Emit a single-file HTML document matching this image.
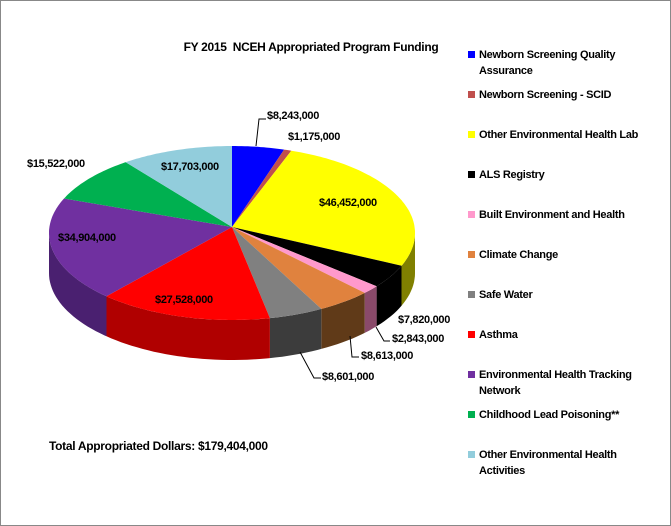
<!DOCTYPE html>
<html><head><meta charset="utf-8"><style>
body{margin:0;background:#fff}
#c{position:relative;width:669px;height:524px;border:1px solid #888;background:#fff;font-family:"Liberation Sans",sans-serif;font-weight:bold;color:#000;overflow:hidden}
.t{position:absolute;font-size:11px;white-space:nowrap;letter-spacing:-0.3px}
.lg{position:absolute;left:478px;font-size:11px;line-height:16px;letter-spacing:-0.3px}
.sq{position:absolute;left:-11px;top:4px;width:7px;height:7px}
</style></head><body><div id="c">
<div class="t" style="left:0;width:620px;text-align:center;top:39px;font-size:12px">FY 2015&nbsp; NCEH Appropriated Program Funding</div>
<svg id="s" width="671" height="526" style="position:absolute;left:0;top:0"></svg>
<div class="t" style="left:266px;top:109px">$8,243,000</div>
<div class="t" style="left:287px;top:130px">$1,175,000</div>
<div class="t" style="left:318px;top:196px">$46,452,000</div>
<div class="t" style="left:26px;top:157px">$15,522,000</div>
<div class="t" style="left:160px;top:160px">$17,703,000</div>
<div class="t" style="left:57px;top:231px">$34,904,000</div>
<div class="t" style="left:154px;top:293px">$27,528,000</div>
<div class="t" style="left:397px;top:313px">$7,820,000</div>
<div class="t" style="left:391px;top:332px">$2,843,000</div>
<div class="t" style="left:360px;top:349px">$8,613,000</div>
<div class="t" style="left:321px;top:370px">$8,601,000</div>
<div class="t" style="left:48px;top:438px;font-size:12px">Total Appropriated Dollars: $179,404,000</div>
<div class="lg" style="top:46px"><span class="sq" style="background:#0000ff"></span>Newborn Screening Quality<br>Assurance</div>
<div class="lg" style="top:86px"><span class="sq" style="background:#c0504d"></span>Newborn Screening - SCID</div>
<div class="lg" style="top:126px"><span class="sq" style="background:#ffff00"></span>Other Environmental Health Lab</div>
<div class="lg" style="top:166px"><span class="sq" style="background:#000"></span>ALS Registry</div>
<div class="lg" style="top:206px"><span class="sq" style="background:#ff99cc"></span>Built Environment and Health</div>
<div class="lg" style="top:246px"><span class="sq" style="background:#e0823e"></span>Climate Change</div>
<div class="lg" style="top:286px"><span class="sq" style="background:#808080"></span>Safe Water</div>
<div class="lg" style="top:326px"><span class="sq" style="background:#ff0000"></span>Asthma</div>
<div class="lg" style="top:366px"><span class="sq" style="background:#7030a0"></span>Environmental Health Tracking<br>Network</div>
<div class="lg" style="top:406px"><span class="sq" style="background:#00b050"></span>Childhood Lead Poisoning**</div>
<div class="lg" style="top:446px"><span class="sq" style="background:#92cddc"></span>Other Environmental Health<br>Activities</div>
</div>
<script>
(function(){
var d=[[8243,'#0000ff','#00008a'],[1175,'#c0504d','#7a2a28'],[46452,'#ffff00','#808000'],[7820,'#000000','#000000'],[2843,'#ff99cc','#8a4a6a'],[8613,'#e0823e','#603a18'],[8601,'#808080','#3c3c3c'],[27528,'#ff0000','#b00000'],[34904,'#7030a0','#4a2070'],[15522,'#00b050','#006030'],[17703,'#92cddc','#5a8a98']];
var cx=231,cy=232,rx=183,ry=87,h=40,T=0;d.forEach(function(a){T+=a[0]});
function P(t,dy){t=t*Math.PI/180;return (cx+rx*Math.sin(t)).toFixed(1)+','+(cy-ry*Math.cos(t)+(dy||0)).toFixed(1)}
var sd='',tp='',c=0;
d.forEach(function(a){var a1=c,a2=c+a[0]/T*360;c=a2;
 var s=Math.max(a1,90),e=Math.min(a2,270);
 if(e>s){var p='M'+P(s)+' ';for(var t=s;t<=e;t+=2)p+='L'+P(t)+' ';p+='L'+P(e)+' L'+P(e,h)+' ';for(var t=e;t>=s;t-=2)p+='L'+P(t,h)+' ';p+='L'+P(s,h)+'Z';sd+='<path d="'+p+'" fill="'+a[2]+'"/>';}
 var q='M'+cx+','+(cy-6)+' L'+P(a1)+' ';for(var t=a1;t<=a2;t+=1)q+='L'+P(t)+' ';q+='L'+P(a2)+'Z';tp+='<path d="'+q+'" fill="'+a[1]+'"/>';
});
var L='<g stroke="#000" fill="none" stroke-width="1"><path d="M255,145 L258,118 L265,118"/><path d="M375,326 L383,340 L389,340"/><path d="M349,335 L351,356 L358,356"/><path d="M299,351 L313,377 L320,377"/></g>';
document.getElementById('s').innerHTML=sd+tp+L;
})();
</script>
</body></html>
